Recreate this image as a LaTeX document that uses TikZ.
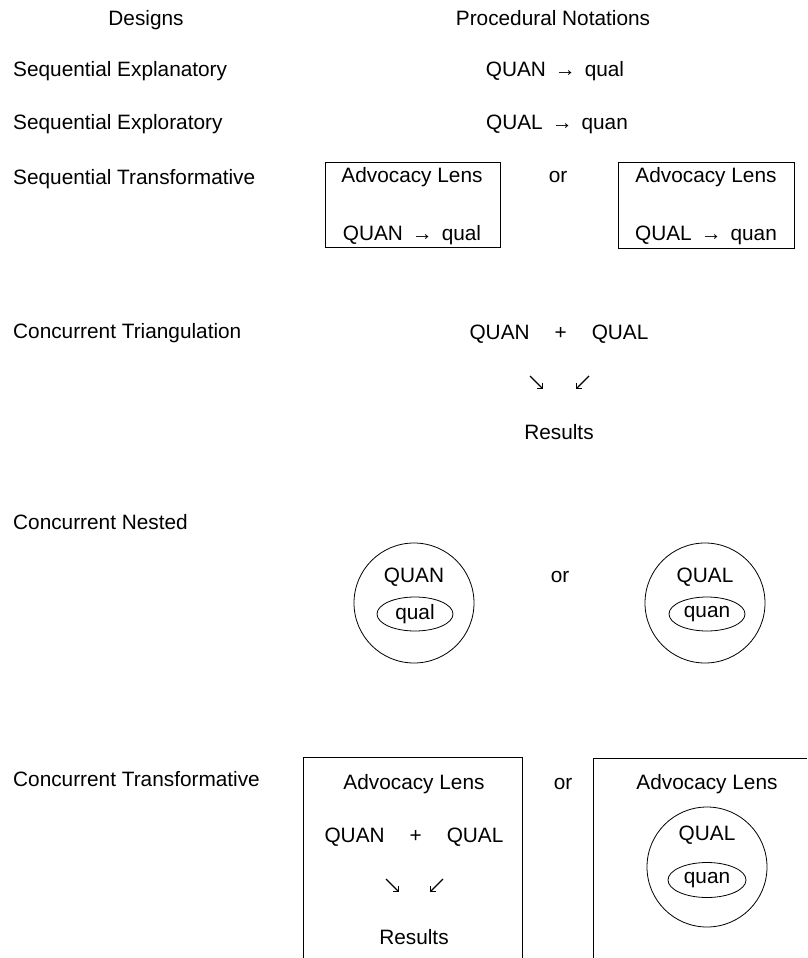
\documentclass[tikz,border=0pt]{standalone}
\usepackage{fontspec}
\setmainfont{Liberation Sans}
\usetikzlibrary{shapes.geometric,arrows.meta}
\newcommand{\rarr}{\hspace{9pt}→\hspace{9pt}}
\newcommand{\plus}{\hspace{25pt}+\hspace{25pt}}
\begin{document}
\begin{tikzpicture}[x=1pt,y=-1pt,
  every node/.style={font=\fontsize{20.8}{24}\selectfont, inner sep=0pt},
  lbl/.style={anchor=base west},
  txt/.style={anchor=base},
  frame/.style={draw, line width=0.8pt},
  glyph/.style={line width=1.1pt, -{Straight Barb[angle=90:5pt]}}]
\useasboundingbox (0,0) rectangle (807,958);

% headings
\node[txt] (hd) at (146,25.5) {Designs};
\node[txt] (hp) at (553,25.5) {Procedural Notations};

% design labels
\node[lbl] (d1) at (13,76.5) {Sequential Explanatory};
\node[lbl] (d2) at (13,129.5) {Sequential Exploratory};
\node[lbl] (d3) at (13,184.5) {Sequential Transformative};
\node[lbl] (d4) at (13,338.5) {Concurrent Triangulation};
\node[lbl] (d5) at (13,529) {Concurrent Nested};
\node[lbl] (d6) at (13,786.5) {Concurrent Transformative};

% sequential notations
\node[txt] (n1) at (555,76.5) {QUAN\rarr qual};
\node[txt] (n2) at (557,129.5) {QUAL\rarr quan};

% sequential transformative boxes
\node[frame, minimum width=175pt, minimum height=85pt] (b1) at (412.5,204.5) {};
\node[txt] (b1a) at (412,182.5) {Advocacy Lens};
\node[txt] (b1b) at (412,240.5) {QUAN\rarr qual};
\node[txt] (or1) at (558,182.5) {or};
\node[frame, minimum width=176pt, minimum height=86pt] (b2) at (706,205) {};
\node[txt] (b2a) at (706,182.5) {Advocacy Lens};
\node[txt] (b2b) at (706,240.5) {QUAL\rarr quan};

% concurrent triangulation
\node[txt] (t1) at (559,339) {QUAN\plus QUAL};
\coordinate (t1as) at (530,376);
\coordinate (t1ae) at (543,389);
\coordinate (t1bs) at (589,376);
\coordinate (t1be) at (576,389);
\draw[glyph] (t1as) -- (t1ae);
\draw[glyph] (t1bs) -- (t1be);
\node[txt] (t1r) at (559,439) {Results};

% concurrent nested
\node[circle, frame, minimum size=120pt] (c1) at (414,603) {};
\node[txt] (c1t) at (414,582.5) {QUAN};
\node[ellipse, frame, minimum width=76pt, minimum height=34pt] (e1) at (415,614) {qual};
\node[txt] (or2) at (560,582.5) {or};
\node[circle, frame, minimum size=120pt] (c2) at (705,603) {};
\node[txt] (c2t) at (705,582.5) {QUAL};
\node[ellipse, frame, minimum width=76pt, minimum height=34pt] (e2) at (707,614) {quan};

% concurrent transformative
\draw[frame] (303,958) -- (303,757) -- (522,757) -- (522,958);
\node[txt] (b3a) at (414,789.5) {Advocacy Lens};
\node[txt] (b3b) at (414,842) {QUAN\plus QUAL};
\coordinate (t2as) at (386,879);
\coordinate (t2ae) at (399,892);
\coordinate (t2bs) at (443,879);
\coordinate (t2be) at (430,892);
\draw[glyph] (t2as) -- (t2ae);
\draw[glyph] (t2bs) -- (t2be);
\node[txt] (b3r) at (414,944) {Results};
\node[txt] (or3) at (563,789.5) {or};
\draw[frame] (593,958) -- (593,758) -- (807,758);
\node[txt] (b4a) at (707,789.5) {Advocacy Lens};
\node[circle, frame, minimum size=120pt] (c3) at (707,867) {};
\node[txt] (c3t) at (707,840.5) {QUAL};
\node[ellipse, frame, minimum width=78pt, minimum height=35pt] (e3) at (707,880) {quan};
\end{tikzpicture}
\end{document}
